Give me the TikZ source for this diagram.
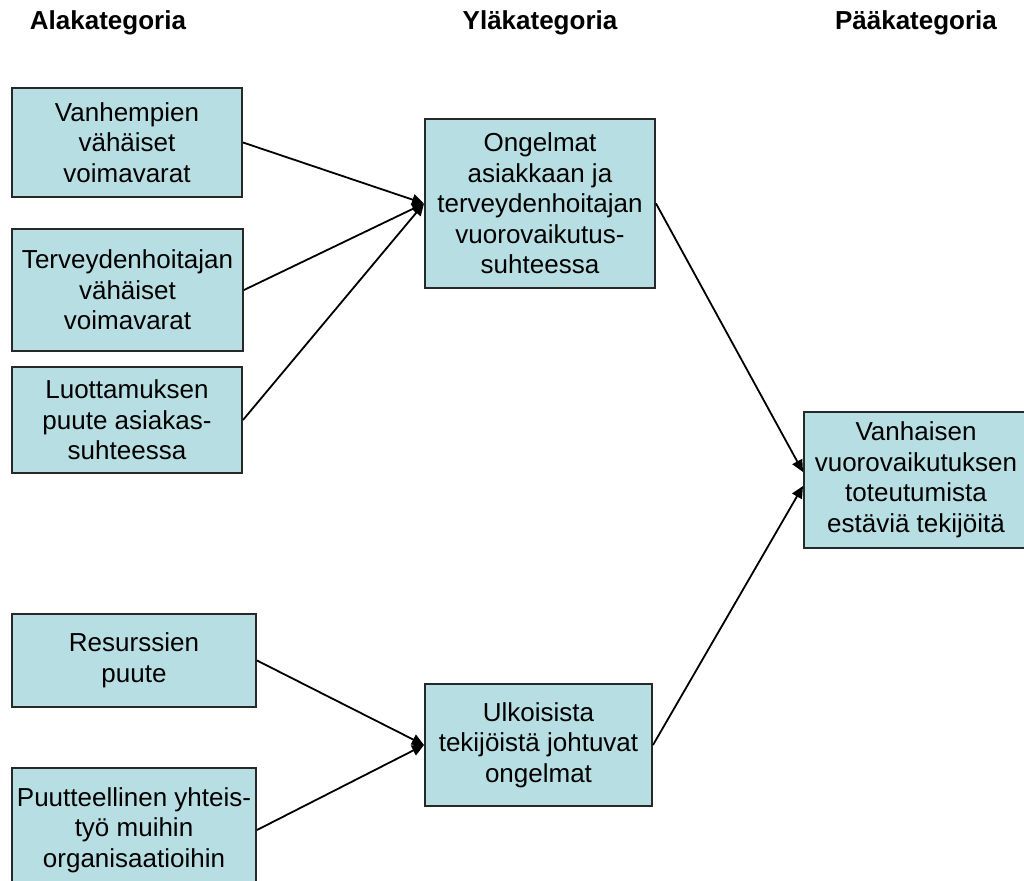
\documentclass[tikz,border=0pt]{standalone}
\usepackage{fontspec}
\setmainfont{Liberation Sans}
\usetikzlibrary{arrows.meta, positioning}
\definecolor{boxcyan}{RGB}{183,222,226}
\definecolor{boxedge}{RGB}{40,40,40}

\begin{document}
\begin{tikzpicture}[
      x=0.5pt, y=-0.5pt,
      cat/.style={rectangle, draw=boxedge, line width=1pt, fill=boxcyan, align=center, inner xsep=1pt, inner ysep=2pt, font=\fontsize{13pt}{15.25pt}\selectfont},
      head/.style={font=\fontsize{13pt}{15.25pt}\selectfont\bfseries},
      arrow/.style={-{Triangle[length=6pt, width=5.5pt]}, line width=0.9pt}
    ]
      \useasboundingbox (0,0) rectangle (1024,881);
      \node[head] (hala) at (108,23) {Alakategoria};
      \node[head] (hyla) at (540,23) {Yläkategoria};
      \node[head] (hpaa) at (916,23) {Pääkategoria};

      \node[cat, minimum width=115pt, minimum height=54.5pt] (va) at (127,142.5) {Vanhempien\\vähäiset\\voimavarat};
      \node[cat, minimum width=115.5pt, minimum height=61pt, below right=15pt and 0pt of va.south west] (tv) {Terveydenhoitajan\\vähäiset\\voimavarat};
      \node[cat, minimum width=115pt, minimum height=53pt, below right=7pt and 0pt of tv.south west] (lu) {Luottamuksen\\puute asiakas-\\suhteessa};
      \node[cat, minimum width=122pt, minimum height=46.5pt, below right=69.5pt and 0pt of lu.south west] (re) {Resurssien\\puute};
      \node[cat, minimum width=122pt, minimum height=62pt, below right=29.5pt and 0pt of re.south west] (pu) {Puutteellinen yhteis-\\työ muihin\\organisaatioihin};

      \node[cat, minimum width=115pt, minimum height=84.5pt] (on) at (540,203.5) {Ongelmat\\asiakkaan ja\\terveydenhoitajan\\vuorovaikutus-\\suhteessa};
      \node[cat, minimum width=113.5pt, minimum height=61pt] (ul) at (538.5,745) {Ulkoisista\\tekijöistä johtuvat\\ongelmat};
      \node[cat, minimum width=112pt, minimum height=68pt] (vh) at (916,480) {Vanhaisen\\vuorovaikutuksen\\toteutumista\\estäviä tekijöitä};

      \draw[arrow] (va.east) -- (on.west);
      \draw[arrow] (tv.east) -- (on.west);
      \draw[arrow] (lu.east) -- (on.west);
      \draw[arrow] (re.east) -- (ul.west);
      \draw[arrow] (pu.east) -- (ul.west);
      \draw[arrow] (on.east) -- ([yshift=4pt]vh.west);
      \draw[arrow] (ul.east) -- ([yshift=-3pt]vh.west);
    \end{tikzpicture}
\end{document}
